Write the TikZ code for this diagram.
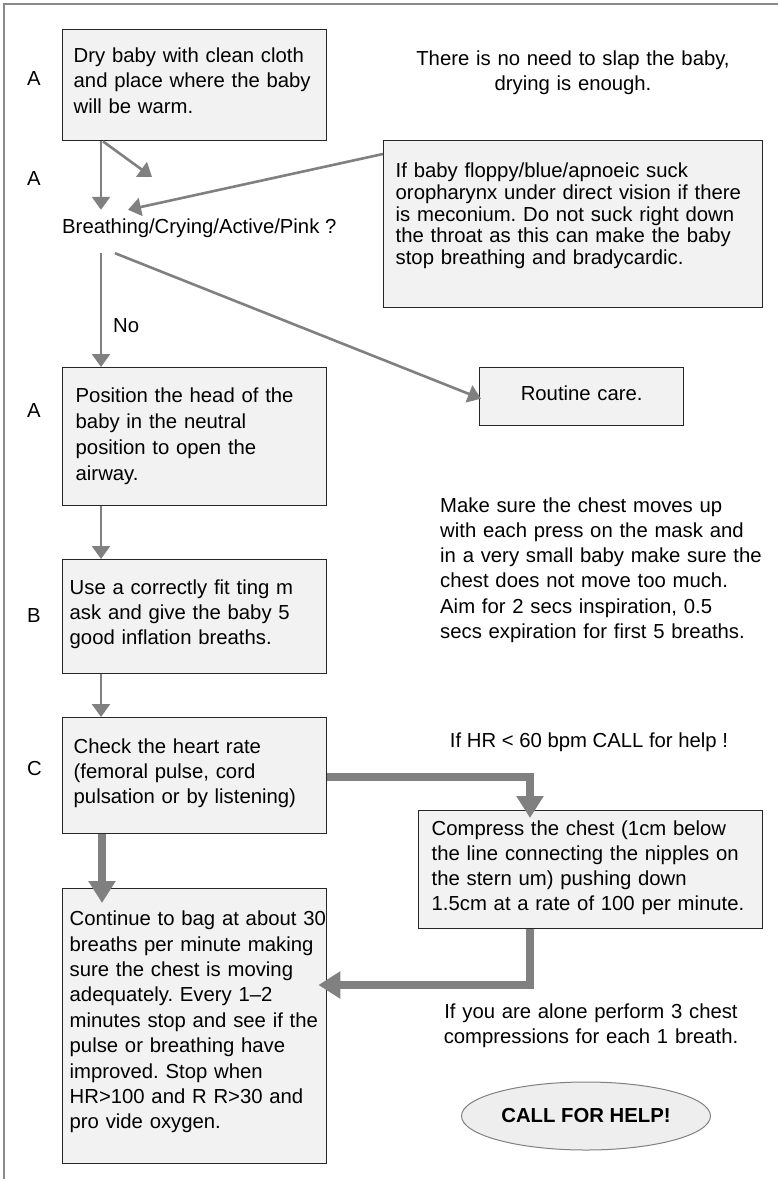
\documentclass[tikz,border=0pt]{standalone}
\usepackage{fontspec}
\setmainfont{Liberation Sans}
\usetikzlibrary{arrows.meta,shapes.geometric}
\definecolor{arrowgray}{HTML}{808080}
\definecolor{boxfill}{HTML}{F2F2F2}
\definecolor{ovalfill}{HTML}{EEEEEE}
\definecolor{framegray}{HTML}{8A8A8A}

\begin{document}
\frenchspacing
\hfuzz=20pt
\begin{tikzpicture}[x=1pt,y=-1pt,
  txt/.style={font=\fontsize{20.3}{25.5}\selectfont, inner sep=0pt, text=black},
  stepbox/.style={txt, draw=black!85, line width=1.4pt, fill=boxfill,
    anchor=north west, align=left, inner ysep=0pt},
  arr/.style={draw=arrowgray, line width=2.6pt, -{Triangle[width=18pt,length=13pt]}},
  bigarr/.style={draw=arrowgray, line width=7.5pt, -{Triangle[width=26pt,length=22pt]}},
]
\useasboundingbox (0,0) rectangle (778,1179);

% page frame
\draw[framegray, line width=2.5pt] (4,1179) -- (4,4) -- (778,4);

% step boxes
\node[stepbox, inner xsep=11pt, text width=242pt, text height=32.5pt, text depth=78.5pt,
  font=\fontsize{20.3}{25.7}\selectfont] (b1) at (62,29)
  {Dry baby with clean cloth\\and place where the baby\\will be warm.};

\node[stepbox, inner xsep=12pt, text width=355pt, text height=37pt, text depth=130pt,
  font=\fontsize{20.3}{21.7}\selectfont] (i1) at (383,140)
  {If baby floppy/blue/apnoeic suck\\oropharynx under direct vision if there\\is meconium. Do not suck right down\\the throat as this can make the baby\\stop breathing and bradycardic.};

\node[stepbox, align=center, inner xsep=0pt, text width=204pt, text height=33pt, text depth=25pt] (rc) at (479,367)
  {Routine care.};

\node[stepbox, inner xsep=13pt, text width=238pt, text height=35pt, text depth=103pt,
  font=\fontsize{20.3}{25.8}\selectfont] (b2) at (62,367)
  {Position the head of the\\baby in the neutral\\position to open the\\airway.};

\node[stepbox, inner xsep=7pt, text width=250pt, text height=35pt, text depth=79pt,
  font=\fontsize{20.3}{25}\selectfont] (b3) at (62,559)
  {Use a correctly fit ting m\\ask and give the baby 5\\good inflation breaths.};

\node[stepbox, inner xsep=11pt, text width=242pt, text height=36pt, text depth=80pt,
  font=\fontsize{20.3}{25}\selectfont] (b4) at (62,717)
  {Check the heart rate\\(femoral pulse, cord\\pulsation or by listening)};

\node[stepbox, inner xsep=7pt, text width=250pt, text height=37pt, text depth=238pt,
  font=\fontsize{20.3}{25.4}\selectfont] (b5) at (62,888)
  {\mbox{Continue to bag at about 30}\\breaths per minute making\\sure the chest is moving\\adequately. Every 1–2\\minutes stop and see if the\\pulse or breathing have\\improved. Stop when\\HR>100 and R R>30 and\\pro vide oxygen.};

\node[stepbox, inner xsep=13pt, text width=318pt, text height=25pt, text depth=93pt,
  font=\fontsize{20.3}{25}\selectfont] (b6) at (418,810)
  {Compress the chest (1cm below\\the line connecting the nipples on\\the stern um) pushing down\\1.5cm at a rate of 100 per minute.};

% question
\node[txt, anchor=base west, inner ysep=8pt, text height=15pt, text depth=12pt] (q) at (62,233)
  {Breathing/Crying/Active/Pink ?};

% free notes
\node[txt, anchor=base, text width=340pt, align=center, font=\fontsize{20.3}{25}\selectfont] (n1) at (573,65)
  {There is no need to slap the baby,\\drying is enough.};
\node[txt, anchor=base west] (no) at (113,332) {No};
\node[txt, anchor=base west, text width=330pt, align=left, font=\fontsize{20.3}{25.3}\selectfont] (n2) at (440,512)
  {Make sure the chest moves up\\with each press on the mask and\\in a very small baby make sure the\\chest does not move too much.\\Aim for 2 secs inspiration, 0.5\\secs expiration for first 5 breaths.};
\node[txt, anchor=base] (n3) at (589,747) {If HR < 60 bpm CALL for help !};
\node[txt, anchor=base, text width=320pt, align=center, font=\fontsize{20.3}{25}\selectfont] (n4) at (591,1018)
  {If you are alone perform 3 chest\\compressions for each 1 breath.};

% call-for-help oval
\node[ellipse, draw=arrowgray, line width=1pt, fill=ovalfill, minimum width=249pt, minimum height=68pt,
  inner sep=0pt, text depth=2pt, font=\fontsize{20.3}{24}\selectfont\bfseries] (help) at (586,1116) {CALL FOR HELP!};

% side letters
\node[txt, anchor=base west] (la1) at (27,85) {A};
\node[txt, anchor=base west] (la2) at (27,185) {A};
\node[txt, anchor=base west] (la3) at (27,417) {A};
\node[txt, anchor=base west] (lb) at (27,622) {B};
\node[txt, anchor=base west] (lc) at (27,775) {C};

% connectors
\coordinate (t2) at (152,177);
\draw[arr] ([xshift=39pt]b1.south west) -- ([xshift=39pt]q.north west);
\draw[arr] ([xshift=41pt]b1.south west) -- (t2);
\draw[arr] ([yshift=-14pt]i1.north west) -- ([xshift=66pt]q.north west);
\draw[arr] ([xshift=39pt]q.south west) -- ([xshift=39pt]b2.north west);
\draw[arr] ([xshift=53pt]q.south west) -- ([xshift=2pt,yshift=-2pt]rc.west);
\draw[arr] ([xshift=39pt]b2.south west) -- ([xshift=39pt]b3.north west);
\draw[arr] ([xshift=39pt]b3.south west) -- ([xshift=39pt]b4.north west);

\draw[bigarr] ([xshift=40pt]b4.south west) -- ([xshift=40pt,yshift=-15pt]b5.north west);
\draw[bigarr] ([yshift=-60pt]b4.north east) -| ([xshift=112pt,yshift=-8pt]b6.north west);
\draw[bigarr] ([xshift=112pt]b6.south west) |- ([xshift=-9pt,yshift=-97pt]b5.north east);
\end{tikzpicture}
\end{document}
